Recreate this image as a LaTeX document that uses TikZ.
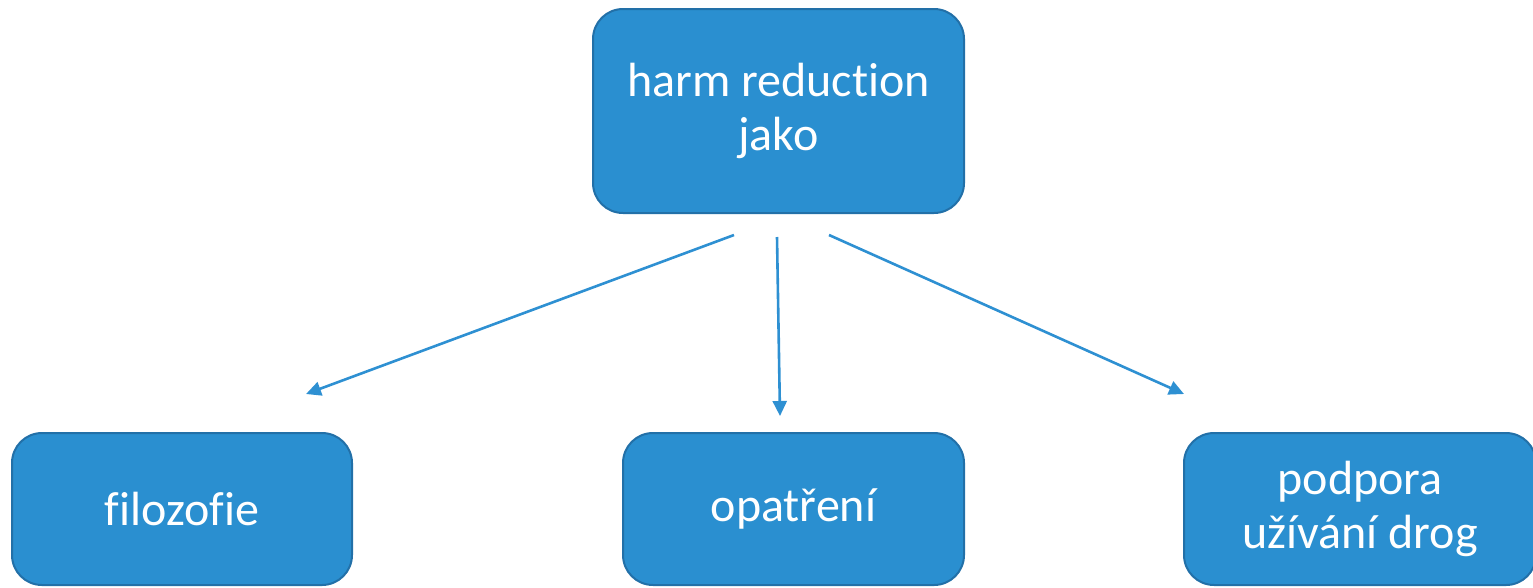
\documentclass[tikz,border=0pt]{standalone}
\usepackage{fontspec}
\setmainfont{Carlito}[Ligatures=NoCommon]
\usetikzlibrary{arrows.meta}
\definecolor{boxfill}{HTML}{2A8FD0}
\definecolor{boxdraw}{HTML}{2270A8}
\definecolor{arrowc}{HTML}{2E90D2}
\tikzset{
  hbox/.style={draw=boxdraw, line width=2pt, fill=boxfill, rounded corners=30pt, text=white,
    align=center, font=\fontsize{48}{54}\selectfont, inner sep=0pt},
  conn/.style={draw=arrowc, line width=2.6pt, -{Triangle[length=15pt,width=14pt]}}
}
\begin{document}
\begin{tikzpicture}[x=1pt,y=-1pt]
\useasboundingbox (0,0) rectangle (1533,587);
\node[hbox, minimum width=371pt, minimum height=204pt] (top) at (778.5,111) {harm reduction\\jako};
\node[hbox, minimum width=340pt, minimum height=152pt] (fil) at (182,509) {filozofie};
\node[hbox, minimum width=341pt, minimum height=152pt] (opa) at (793.5,509) {opatření};
\node[hbox, minimum width=352pt, minimum height=152pt] (pod) at (1360,509) {podpora\\užívání drog};
\coordinate (s1) at (734,235);
\coordinate (s2) at (777,237);
\coordinate (s3) at (829,235);
\coordinate (e1) at (306,394);
\coordinate (e2) at (780,416);
\coordinate (e3) at (1184,394);
\draw[conn] (s1) -- (e1);
\draw[conn] (s2) -- (e2);
\draw[conn] (s3) -- (e3);
\end{tikzpicture}
\end{document}
